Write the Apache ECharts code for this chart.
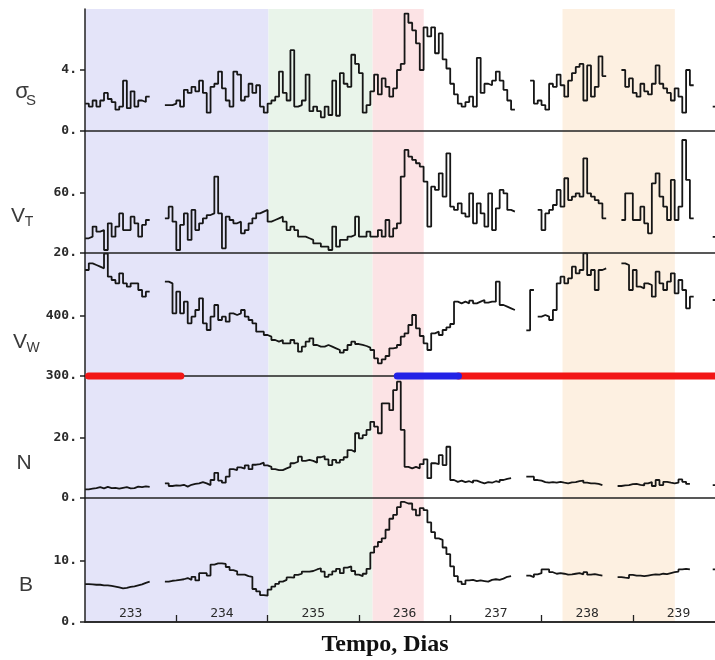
<!DOCTYPE html>
<html>
<head>
<meta charset="utf-8">
<script src="https://cdn.jsdelivr.net/npm/echarts@6/dist/echarts.min.js"></script>
<style>
  html, body { margin: 0; padding: 0; background: #ffffff; }
  #chart { width: 715px; height: 660px; }
</style>
</head>
<body>
<div id="chart"></div>
<script>
// Time axis (day of year) and its tick labels
const dayStart = 233;
const dayEnd = 239.9;
const dayTicks = [234, 235, 236, 237, 238, 239];
const dayLabels = [233, 234, 235, 236, 237, 238, 239];

// Hourly averages, one row per day (24 values), null = data gap
const sigmaS = [
  1.8, 1.6, 2.0, 1.6, 2.0, 2.5, 2.1, 1.9, 1.4, 1.6, 3.3, 1.5, 2.6, 1.6, 2.0, 1.9, 2.25, null, null, null, null, 1.7, 1.7, 1.8,
  2.0, 1.6, 2.7, 2.5, 2.9, 2.6, 3.3, 2.5, 1.2, 2.9, 3.1, 3.9, 2.8, 2.0, 1.6, 3.9, 3.7, 2.0, 2.25, 3.1, 2.5, 3.0, 1.6, 1.2,
  1.8, 2.0, 2.25, 3.9, 2.5, 2.0, 5.3, 1.6, 1.7, 2.0, 3.7, 1.3, 1.6, 1.3, 0.9, 1.6, 1.05, 3.3, 1.0, 3.8, 3.1, 2.9, 5.0, 4.4,
  3.8, 1.2, 1.7, 2.6, 3.7, 2.4, 3.45, 2.9, 2.25, 2.8, 4.0, 4.4, 7.7, 7.1, 6.6, 5.75, 4.0, 6.8, 6.2, 6.8, 5.1, 6.4, 4.7, 4.1,
  3.1, 2.4, 1.8, 1.6, 1.9, 2.25, 1.6, 4.8, 2.5, 3.1, 3.0, 3.3, 3.9, 3.3, 2.7, 2.0, 1.4, null, null, null, null, 3.3, 1.8, 2.0,
  1.7, 1.4, 3.1, 2.9, 3.7, 3.0, 2.25, 3.3, 3.8, 4.2, 4.4, 2.0, 4.3, 2.25, 2.9, 4.9, 3.6, null, null, null, null, 4.0, 2.9, 3.45,
  2.5, 2.25, 3.1, 2.6, 2.4, 3.1, 4.3, 3.1, 2.8, 2.5, 2.0, 2.8, 2.25, 1.2, 4.0, 3.0, null, null, null, null, null, 1.6, 1.6, null
];
const vT = [
  29.8, 30.9, 37.6, 34.2, 35.3, 22, 39.8, 30.9, 37.6, 46.4, 35.3, 35.3, 44.2, 39.8, 30.9, 38.7, 42, null, null, null, null, 43.1, 50.9, 40.9,
  22, 38.7, 46.4, 28.7, 48.7, 35.3, 39.8, 43.1, 45.3, 46.4, 70.9, 46.4, 23.1, 44.2, 42, 39.8, 40.9, 33.1, 35.3, 39.8, 43.1, 46.4, 47.6, 48.7,
  40.9, 42, 43.1, 44.2, 40.9, 35.3, 37.6, 35.3, 30.9, 30.9, 29.8, 28.7, 26.4, 26.4, 24.2, 24.2, 22, 37.6, 24.2, 28.7, 28.7, 30.9, 32, 44.2,
  30.9, 30.9, 34.2, 30.9, 30.9, 35.3, 30.9, 42, 30.9, 36.4, 39.8, 70.9, 88.7, 84.2, 82, 79.8, 77.6, 67.6, 37.6, 64.2, 62, 73.1, 57.6, 86.4,
  50.9, 48.7, 53.1, 46.4, 44.2, 59.8, 39.8, 53.1, 46.4, 37.6, 59.8, 35.3, 49.8, 62, 59.8, 48.7, 47.6, null, null, null, null, null, null, 48.7,
  35.3, 46.4, 48.7, 52, 62, 50.9, 69.8, 55.3, 57.6, 59.8, 57.6, 83.1, 59.8, 57.6, 55.3, 53.1, 43.1, null, null, null, null, 42, 59.8, 59.8,
  42, 42, 50.9, 39.8, 33.1, 66.4, 73.1, 57.6, 50.9, 42, 68.7, 42, 50.9, 95.3, 68.7, 43.1, null, null, null, null, null, 30.7, 30.7, null
];
const vW = [
  476.7, 487.8, 485, 482.2, 479.4, 504, 465.6, 460, 454.4, 471.1, 454.4, 448.9, 454.4, 454.4, 443.3, 432.2, 440.6, null, null, null, null, 457.2, 454.4, 404.4,
  440.6, 404.4, 423.9, 387.8, 398.9, 410, 429.4, 387.8, 376.7, 398.9, 418.3, 393.3, 398.9, 390.6, 404.4, 401.7, 404.4, 410, 398.9, 393.3, 387.8, 373.9, 373.9, 368.3,
  365.6, 360, 357.2, 360, 354.4, 354.4, 360, 354.4, 340.6, 348.9, 357.2, 362.8, 351.7, 348.9, 348.9, 351.7, 348.9, 346.1, 343.3, 338.9, 343.3, 351.7, 357.2, 353.3,
  351.7, 350, 347.2, 343.3, 329.4, 321.1, 327.8, 333.3, 346.1, 347.2, 351.7, 365.6, 371.1, 385, 401.7, 379.4, 366.7, 354.4, 343.3, 371.1, 373.9, 368.3, 376.7, 381.1,
  386.7, 423.9, 421.1, 423.9, 421.1, 425.6, 421.1, 423.9, 426.7, 422.2, 423.9, 423.9, 457.2, 418.3, 415.6, 412.8, 410, null, null, null, 376.1, 443.3, null, 398.9,
  401.7, 398.9, 393.3, 410, 454.4, 465.6, 454.4, 462.8, 482.2, 471.1, 476.7, 504.4, 468.3, 476.7, 443.3, 476.7, 479.4, null, null, null, null, 487.8, 485, 443.3,
  476.7, 448.9, 446.1, 454.4, 451.7, 432.2, 473.9, 454.4, 443.3, 457.2, 471.1, 437.8, 460, 443.3, 412.8, 432.2, null, null, null, null, null, 426.7, 426.7, null
];
const density = [
  2.9, 3.1, 3.3, 3.6, 3.2, 3.7, 3.3, 3.4, 3.1, 3.4, 3.6, 3.2, 3.3, 3.8, 3.6, 3.9, 3.7, null, null, null, null, 4.9, 4.0, 4.2,
  4.1, 4.4, 3.8, 4.4, 4.7, 4.9, 5.3, 4.9, 4.3, 6.0, 8.4, 5.8, 5.1, 7.1, 9.6, 9.3, 10.2, 9.8, 10.9, 9.6, 11.1, 11.3, 11.8, 10.9,
  10.4, 9.6, 9.3, 9.3, 9.9, 10.4, 11.6, 12.1, 13.8, 12.4, 12.7, 12.4, 11.8, 13.6, 14.0, 12.9, 11.0, 12.7, 11.8, 12.7, 13.6, 16.0, 15.4, 21.6,
  19.9, 21.0, 22.7, 25.4, 23.8, 21.6, 31.6, 31.6, 29.3, 36.0, 38.8, 22.7, 10.4, 9.9, 10.4, 9.9, 11.3, 12.9, 6.6, 11.6, 11.3, 14.3, 11.0, 17.1,
  6.0, 5.4, 5.8, 5.3, 5.6, 5.1, 5.8, 5.3, 4.9, 5.3, 5.1, 5.6, 5.3, 6.0, 6.4, 6.6, null, null, null, null, 7.1, 7.1, 6.0, 5.8,
  5.3, 5.1, 5.3, 5.1, 5.4, 5.1, 4.9, 5.2, 5.3, 5.6, 5.8, 5.1, 4.9, 4.9, 4.7, 4.3, null, null, null, null, 4.0, 4.2, 4.3, 4.6,
  4.7, 4.4, 4.2, 4.9, 5.3, 4.0, 6.0, 4.3, 5.4, 5.1, 4.9, 5.1, 6.2, 5.4, 4.7, null, null, null, null, null, null, 4.3, 4.3, null
];
const fieldB = [
  6.2, 6.15, 6.1, 6.1, 6.0, 6.0, 5.9, 5.8, 5.65, 5.5, 5.6, 5.75, 5.85, 6.0, 6.15, 6.4, 6.6, null, null, null, null, 6.6, 6.75, 6.8,
  6.9, 7.0, 7.2, 6.9, 7.4, 6.8, 8.0, 8.0, 7.6, 9.4, 9.6, 9.6, 9.5, 9.0, 8.5, 8.3, 7.75, 7.75, 7.5, 7.4, 5.4, 5.0, 4.4, 4.3,
  5.3, 5.8, 6.25, 6.6, 6.9, 7.3, 7.25, 7.7, 7.9, 8.25, 8.25, 8.35, 8.6, 8.8, 8.25, 7.4, 7.75, 8.3, 8.7, 8.0, 8.9, 9.1, 8.35, 7.75,
  7.5, 7.9, 8.7, 11.35, 12.35, 13.1, 13.7, 15.1, 16.9, 17.55, 18.8, 19.65, 19.4, 19.4, 18.4, 17.45, 18.65, 18.3, 16.3, 14.7, 13.7, 13.45, 12.2, 11.1,
  9.1, 7.5, 6.6, 6.2, 6.8, 6.9, 6.7, 6.8, 6.7, 6.6, 6.9, 7.0, 6.9, 7.1, 7.4, 7.5, null, null, null, null, 7.6, 7.35, 7.8, 8.0,
  8.6, 8.6, 8.15, 7.9, 8.0, 7.9, 7.75, 7.8, 7.9, 8.0, 7.8, 8.15, 7.75, 7.85, 7.7, 7.6, null, null, null, null, 7.35, 7.25, 7.2, 7.7,
  7.6, 7.6, 7.5, 7.6, 7.7, 7.8, 7.75, 7.9, 7.85, 8.0, 8.15, 8.25, 8.6, 8.7, 8.6, null, null, null, null, null, null, 8.6, 8.6, null
];

// Labelled ticks of each panel's vertical axis
const sigmaTicks = [0, 4];
const vTTicks = [20, 60];
const vWTicks = [300, 400];
const densityTicks = [0, 20];
const fieldTicks = [0, 10];

// Shaded stream intervals (day) and sector polarity intervals drawn on the 300 km/s line
const regimeBands = [[233, 235.01], [235.01, 236.15], [236.15, 236.71], [238.23, 239.46]];
const awaySector = [[233.04, 234.05], [237.09, 240]];
const towardSector = [[236.42, 237.09]];

// ---- styling / layout ----
const bandColors = ['#e4e4f9', '#e9f4ea', '#fce3e5', '#fdf0e1'];
const axisColor = '#222222';
const traceColor = '#161616';
const tickFont = { fontFamily: 'DejaVu Sans Mono', fontSize: 13, fontWeight: 'bold', color: '#2a2a2a' };

const panels = [
  { values: sigmaS, min: 0, max: 8.0, ticks: sigmaTicks, top: 9, height: 122 },
  { values: vT, min: 20, max: 101.3, ticks: vTTicks, top: 131, height: 122 },
  { values: vW, min: 300, max: 505, ticks: vWTicks, top: 253, height: 123 },
  { values: density, min: 0, max: 40.7, ticks: densityTicks, top: 376, height: 122 },
  { values: fieldB, min: 0, max: 20.3, ticks: fieldTicks, top: 498, height: 124 }
];
const last = panels.length - 1;
const hourly = arr => arr.map((v, i) => [dayStart + i / 24, v]);

const grids = panels.map(p => ({ left: 85, right: 0, top: p.top, height: p.height }));
grids.push({ left: 85, right: 0, top: 9, height: 613 });

const xAxes = panels.map((p, k) => ({
  type: 'value', gridIndex: k, min: dayStart, max: dayEnd, z: 5,
  axisLine: { show: true, lineStyle: { color: axisColor, width: 1.5 } },
  axisTick: k === last
    ? { show: true, inside: true, length: 7, customValues: dayTicks, lineStyle: { color: axisColor, width: 1.3 } }
    : { show: false },
  axisLabel: k === last
    ? { show: true, inside: true, margin: 2, customValues: dayLabels.map(d => d + 0.5),
        formatter: v => String(Math.floor(v)),
        fontFamily: 'DejaVu Sans Mono', fontSize: 13, color: '#2a2a2a' }
    : { show: false },
  splitLine: { show: false }
}));
xAxes.push({
  type: 'value', gridIndex: panels.length, min: dayStart, max: dayEnd, position: 'top', z: 5,
  axisLine: { show: true, lineStyle: { color: axisColor, width: 1.5 } },
  axisTick: { show: false }, axisLabel: { show: false }, splitLine: { show: false }
});

const yAxes = panels.map((p, k) => ({
  type: 'value', gridIndex: k, min: p.min, max: p.max, z: 5,
  axisLine: { show: true, lineStyle: { color: axisColor, width: 1.5 } },
  axisTick: { show: true, length: 5, customValues: p.ticks, lineStyle: { color: axisColor, width: 1.5 } },
  axisLabel: Object.assign({ customValues: p.ticks, margin: 8, formatter: v => v + '.' }, tickFont),
  splitLine: { show: false }
}));
yAxes.push({ type: 'value', gridIndex: panels.length, min: 0, max: 1, show: false });

const series = [];
series.push({
  type: 'line', xAxisIndex: panels.length, yAxisIndex: panels.length, data: [], z: 0,
  markArea: {
    silent: true,
    data: regimeBands.map((b, i) => [
      { xAxis: b[0], itemStyle: { color: bandColors[i], opacity: 1 } },
      { xAxis: b[1] }
    ])
  }
});
panels.forEach((p, k) => {
  series.push({
    type: 'line', xAxisIndex: k, yAxisIndex: k, data: hourly(p.values),
    step: 'end', showSymbol: false, connectNulls: false, z: 3,
    lineStyle: { color: traceColor, width: 1.8 }
  });
});
const sectorSeries = (intervals, color) => intervals.map(iv => ({
  type: 'line', xAxisIndex: 2, yAxisIndex: 2, data: [[iv[0], 300], [iv[1], 300]],
  showSymbol: false, clip: false, z: 6,
  lineStyle: { color: color, width: 7, cap: 'round' }
}));
series.push(...sectorSeries(awaySector, '#f21616'));
series.push(...sectorSeries(towardSector, '#2222e6'));

// Panel names with subscripts
const nameFont = size => `${size}px "Liberation Sans"`;
const txt = (text, x, y, size) => ({
  type: 'text', silent: true,
  style: { text, x, y, font: nameFont(size), fill: '#3a3a3a', textAlign: 'center', textVerticalAlign: 'middle' }
});
const graphic = [
  txt('σ', 22, 92, 22), txt('S', 31, 101, 15),
  txt('V', 18, 216, 21), txt('T', 29, 222, 14),
  txt('V', 20, 342, 21), txt('W', 33, 348, 14),
  txt('N', 24, 463, 21),
  txt('B', 26, 585, 21),
  {
    type: 'text', silent: true,
    style: { text: 'Tempo, Dias', x: 385, y: 645, font: 'bold 24px "Liberation Serif"', fill: '#111', textAlign: 'center', textVerticalAlign: 'middle' }
  }
];

const chart = echarts.init(document.getElementById('chart'), null, { renderer: 'canvas' });
chart.setOption({
  animation: false,
  backgroundColor: '#ffffff',
  grid: grids,
  xAxis: xAxes,
  yAxis: yAxes,
  series: series,
  graphic: graphic
});
</script>
</body>
</html>
